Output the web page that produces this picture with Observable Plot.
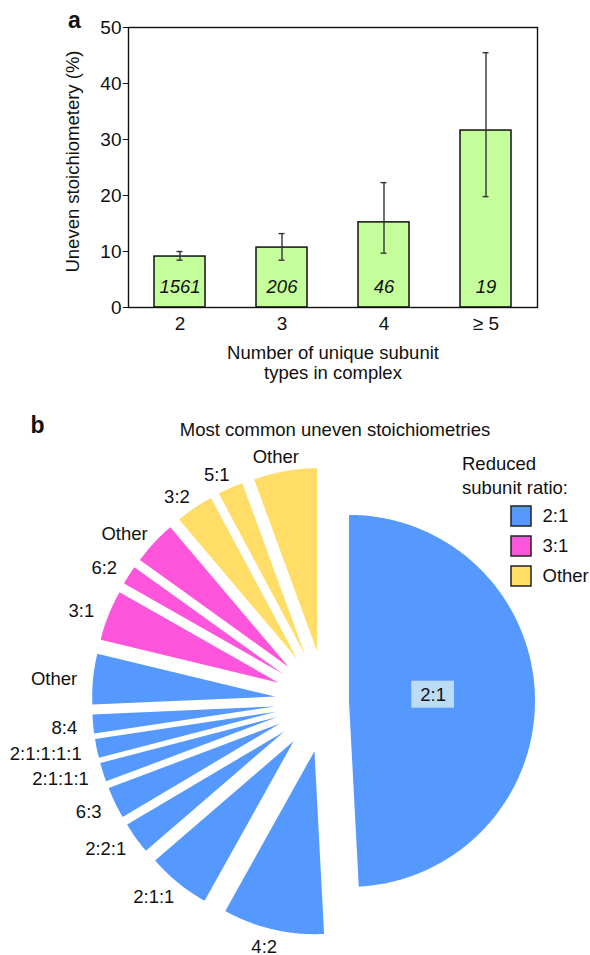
<!DOCTYPE html>
<html>
<head>
<meta charset="utf-8">
<script src="https://cdn.jsdelivr.net/npm/d3@7"></script>
<script src="https://cdn.jsdelivr.net/npm/@observablehq/plot@0.6"></script>
<style>
  body { margin: 0; background: #fff; }
  #fig { width: 590px; height: 955px; }
  #fig svg { display: block; }
</style>
</head>
<body>
<div id="fig"></div>
<script>
// ---------- Panel a: uneven stoichiometry by number of subunit types ----------
const complexTypes  = ["2", "3", "4", "≥ 5"];
const unevenPct     = [9.1, 10.7, 15.2, 31.6];
const ciLow         = [8.45, 8.45, 9.7, 19.8];
const ciHigh        = [10.0, 13.2, 22.3, 45.5];
const complexCounts = [1561, 206, 46, 19];
const yTicks        = [0, 10, 20, 30, 40, 50];

// ---------- Panel b: most common uneven stoichiometries ----------
const stoichiometries = ["2:1", "4:2", "2:1:1", "2:2:1", "6:3", "2:1:1:1", "2:1:1:1:1", "8:4", "Other",
                         "3:1", "6:2", "Other",
                         "3:2", "5:1", "Other"];
const stoichCounts    = [88, 16, 10, 5, 5, 3, 3, 3, 8,
                         8, 3, 7,
                         6, 4, 10];
const reducedRatio    = ["2:1", "2:1", "2:1", "2:1", "2:1", "2:1", "2:1", "2:1", "2:1",
                         "3:1", "3:1", "3:1",
                         "Other", "Other", "Other"];
const ratioGroups = ["2:1", "3:1", "Other"];
const ratioColors = ["#5599ff", "#ff55dd", "#ffdd66"];

const FONT = '"Liberation Sans", Arial, Helvetica, sans-serif';
const FS = 18.5;
const baseStyle = {fontFamily: FONT, fontSize: FS + "px", color: "#111", background: "#fff", overflow: "visible"};

// ----- panel a -----
const barData = complexTypes.map((k, i) => ({
  k, pct: unevenPct[i], lo: ciLow[i], hi: ciHigh[i], n: complexCounts[i]
}));

const plotA = Plot.plot({
  width: 590, height: 395,
  marginLeft: 128, marginRight: 53, marginTop: 27, marginBottom: 88,
  style: baseStyle,
  x: {domain: complexTypes, paddingInner: 0.5, paddingOuter: 0.25, axis: null},
  y: {domain: [0, 50], axis: null},
  marks: [
    Plot.barY(barData, {x: "k", y: "pct", fill: "#c4ff9c", stroke: "#111", strokeWidth: 1.5}),
    Plot.ruleX(barData, {x: "k", y1: "lo", y2: "hi", stroke: "#333", strokeWidth: 1.4}),
    Plot.tickY(barData, {x: "k", y: "lo", stroke: "#333", strokeWidth: 1.4, insetLeft: 22.5, insetRight: 22.5}),
    Plot.tickY(barData, {x: "k", y: "hi", stroke: "#333", strokeWidth: 1.4, insetLeft: 22.5, insetRight: 22.5}),
    Plot.text(barData, {x: "k", frameAnchor: "bottom", lineAnchor: "middle", dy: -20,
                        text: d => String(d.n), fontStyle: "italic", fontSize: FS}),
    Plot.frame({stroke: "#111", strokeWidth: 1.4}),
    Plot.axisY({ticks: yTicks, tickSize: 5, tickPadding: 2, fontSize: 19, label: null, stroke: "#111"}),
    Plot.axisX({tickSize: 0, tickPadding: 9, fontSize: 19, label: null}),
    Plot.text(["Uneven stoichiometery (%)"], {frameAnchor: "left", textAnchor: "middle", lineAnchor: "middle",
                                              rotate: -90, dx: -55, dy: -6, fontSize: FS}),
    Plot.text(["Number of unique subunit\ntypes in complex"], {frameAnchor: "bottom", lineAnchor: "top",
                                                          dy: 37.5, lineHeight: 1.08, fontSize: FS}),
    Plot.text(["a"], {frameAnchor: "top-left", textAnchor: "middle", lineAnchor: "middle",
                      dx: -54, dy: -7, fontWeight: "bold", fontSize: 23})
  ]
});

// ----- panel b -----
const PB_W = 590, PB_H = 560;
const R = 183;                 // outer radius of the pie (px)
const CX = 325.5, CY = 306;    // pie centre within the panel (px)
const EXPLODE = 51, EXPLODE_MAIN = 23, MAIN_RADIUS = 186, LABEL_GAP = 13, LABEL_RISE = 3;

// pie coordinates: unit = radius, y pointing up
const toX = px => (px - CX) / R;
const toY = py => (CY - py) / R;

const total = d3.sum(stoichCounts);
let acc = 0;
const slices = stoichiometries.map((name, i) => {
  const a0 = (acc / total) * 2 * Math.PI;
  acc += stoichCounts[i];
  const a1 = (acc / total) * 2 * Math.PI;
  const mid = (a0 + a1) / 2;
  const main = i === 0;
  const e = (main ? EXPLODE_MAIN : EXPLODE) / R;
  return {
    i, name, group: reducedRatio[i], a0, a1, mid, main,
    r: (main ? MAIN_RADIUS : R) / R,
    ax: e * Math.sin(mid), ay: e * Math.cos(mid)
  };
});

// wedge outlines (apex + outer arc), angles clockwise from 12 o'clock
const outline = slices.flatMap(s => {
  const n = Math.max(2, Math.ceil((s.a1 - s.a0) / (Math.PI / 360)));
  const pts = [{id: s.i, group: s.group, x: s.ax, y: s.ay}];
  for (let k = 0; k <= n; k++) {
    const t = s.a0 + (s.a1 - s.a0) * k / n;
    pts.push({id: s.i, group: s.group, x: s.ax + s.r * Math.sin(t), y: s.ay + s.r * Math.cos(t)});
  }
  return pts;
});

const ctx = document.createElement("canvas").getContext("2d");
ctx.font = `${FS}px "Liberation Sans"`;

const outerLabels = slices.filter(s => !s.main).map(s => {
  const w = ctx.measureText(s.name).width;
  const ux = Math.sin(s.mid), uy = Math.cos(s.mid);
  const d = s.r + LABEL_GAP / R;
  return {
    name: s.name,
    x: s.ax + d * ux + ux * (w / 2) / R,
    y: s.ay + d * uy + uy * LABEL_RISE / R
  };
});

const m = slices[0];
const mainLabel = {name: m.name, x: m.ax + 0.46 * Math.sin(m.mid), y: m.ay + 0.46 * Math.cos(m.mid)};
const boxHW = (ctx.measureText(m.name).width + 17) / 2 / R, boxHH = 13.5 / R;
const mainBox = {x1: mainLabel.x - boxHW, x2: mainLabel.x + boxHW, y1: mainLabel.y - boxHH, y2: mainLabel.y + boxHH};

const legendRows = ratioGroups.map((g, i) => ({
  g,
  x1: toX(511), x2: toX(531),
  y1: toY(111 + 30 * i), y2: toY(131 + 30 * i),
  tx: toX(542), ty: toY(121 + 30 * i)
}));

const plotB = Plot.plot({
  width: PB_W, height: PB_H, margin: 0,
  style: baseStyle,
  x: {domain: [toX(0), toX(PB_W)], axis: null},
  y: {domain: [toY(PB_H), toY(0)], axis: null},
  color: {domain: ratioGroups, range: ratioColors},
  marks: [
    Plot.line(outline, {x: "x", y: "y", z: "id", fill: "group", stroke: "none", curve: "linear-closed"}),
    Plot.rect([mainBox], {x1: "x1", x2: "x2", y1: "y1", y2: "y2", fill: "#bcdcf6", dy: -4}),
    Plot.text([mainLabel], {x: "x", y: "y", text: "name", fontSize: FS, dy: -4}),
    Plot.text(outerLabels, {x: "x", y: "y", text: "name", fontSize: FS, dx: -3, dy: 2}),
    Plot.text(["Most common uneven stoichiometries"], {frameAnchor: "top", lineAnchor: "middle",
                                                       dx: 39.5, dy: 35, fontSize: FS}),
    Plot.text(["b"], {frameAnchor: "top-left", textAnchor: "middle", lineAnchor: "middle",
                      dx: 37, dy: 30, fontWeight: "bold", fontSize: 23}),
    Plot.text(["Reduced\nsubunit ratio:"], {frameAnchor: "top-left", dx: 461.5, dy: 58.5, textAnchor: "start",
                                            lineAnchor: "top", lineHeight: 1.25, fontSize: FS}),
    Plot.rect(legendRows, {x1: "x1", x2: "x2", y1: "y1", y2: "y2", fill: "g", stroke: "#222", strokeWidth: 1.5}),
    Plot.text(legendRows, {x: "tx", y: "ty", text: "g", textAnchor: "start", fontSize: FS})
  ]
});

const fig = document.getElementById("fig");
fig.append(plotA, plotB);
</script>
</body>
</html>
